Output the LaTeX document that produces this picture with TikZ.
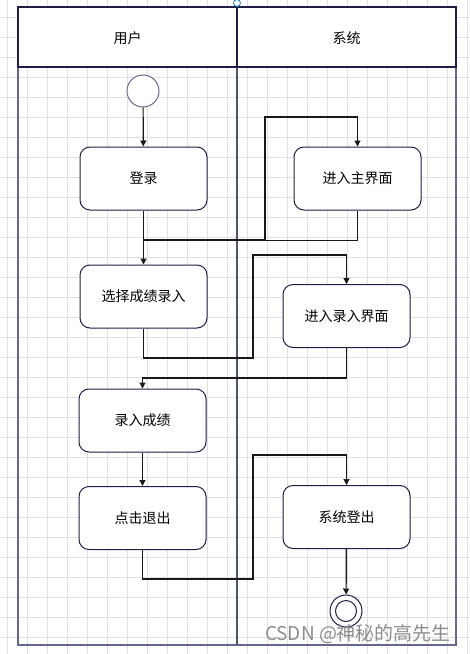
\documentclass[tikz,border=0pt]{standalone}
\usepackage{fontspec}
\setmainfont{Noto Sans CJK SC}
\usetikzlibrary{arrows.meta}

\definecolor{boxline}{RGB}{30,30,70}
\definecolor{laneline}{RGB}{100,104,140}
\definecolor{gridline}{RGB}{224,224,224}

\tikzset{
	activity/.style={draw=boxline, fill=white, rounded corners=10pt, minimum width=127pt, minimum height=63pt, line width=1pt, font=\fontsize{14}{16}\selectfont},
	startdot/.style={circle, draw=laneline, fill=white, minimum size=32pt, inner sep=0pt, line width=1pt},
	flow/.style={draw=black!90, line width=1.2pt, -{Triangle[width=6pt,length=6pt]}},
}

\begin{document}
\begin{tikzpicture}[x=1pt,y=-1pt]
	\useasboundingbox (0,0) rectangle (470,654);

	%Grid
	\foreach \gx in {7,27,...,467} \draw[gridline] (\gx,0) -- (\gx,654);
	\foreach \gy in {17,37,...,654} \draw[gridline] (0,\gy) -- (470,\gy);

	%Lanes
	\draw[laneline, line width=2pt] (18,67) -- (18,645) -- (456,645) -- (456,67);
	\draw[laneline!80!black, line width=2pt] (237,67) -- (237,645);

	%Header
	\draw[boxline, line width=1.2pt, fill=white] (18,7) rectangle (456,67);
	\draw[boxline, line width=1.2pt] (237,7) -- (237,67);
	\node[font=\fontsize{14}{16}\selectfont] (user) at (127.5,38) {用户};
	\node[font=\fontsize{14}{16}\selectfont] (system) at (346.5,38) {系统};
	\draw[cyan!60!blue, fill=white, line width=0.8pt] (237,3) circle (3.5pt);

	%Activities
	\node[startdot] (start) at (143,91) {};
	\node[activity] (login) at (143.5,178.5) {登录};
	\node[activity] (main) at (357.5,178.5) {进入主界面};
	\node[activity] (select) at (143.5,296.5) {选择成绩录入};
	\node[activity] (enter) at (346.5,316) {进入录入界面};
	\node[activity] (record) at (142.5,420.5) {录入成绩};
	\node[activity] (click) at (142.5,518) {点击退出};
	\node[activity] (logout) at (346.5,517) {系统登出};

	%End
	\node[startdot, draw=boxline] (end) at (346,611) {};
	\draw[boxline, line width=1pt] (end.center) circle (10.5pt);

	%Flows
	\draw[flow] (start) -- (login);
	\draw[flow] (login.south) |- (265,240) -- (265,117) -| (main.north);
	\draw[flow] (main.south) -- ++(0,30) -| (select.north);
	\draw[flow] (select.south) |- (253,358) -- (253,255) -| (enter.north);
	\draw[flow] (enter.south) -- ++(0,30) -| (record.north);
	\draw[flow] (record) -- (click);
	\draw[flow] (click.south) |- (253,579) -- (253,455) -| (logout.north);
	\draw[flow] (logout) -- (end);

	%Watermark
	\node[text=black!45, font=\fontsize{19}{21}\selectfont] (mark) at (358,634) {CSDN @神秘的高先生};
\end{tikzpicture}
\end{document}
